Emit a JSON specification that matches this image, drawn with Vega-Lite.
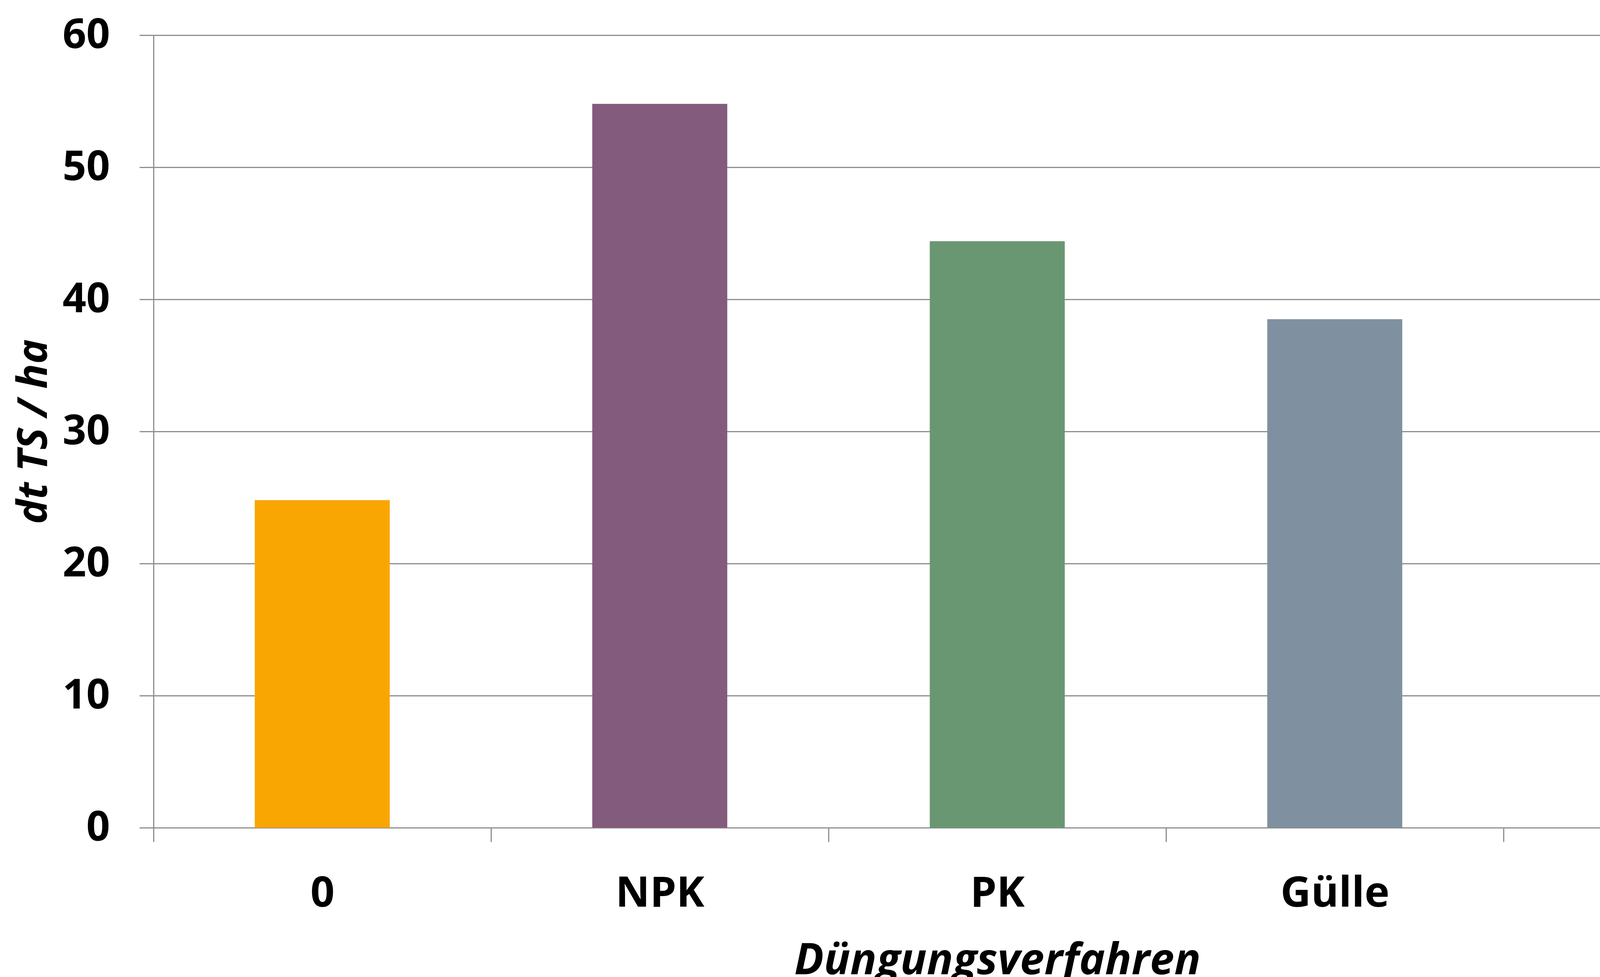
{
  "$schema": "https://vega.github.io/schema/vega-lite/v6.json",
  "width": 4300,
  "height": 2028,
  "autosize": {"type": "none"},
  "padding": {"left": 393, "top": 90, "right": 0, "bottom": 382},
  "background": "white",
  "config": {"view": {"stroke": null}, "font": "Open Sans"},
  "data": {
    "values": [
      {"Verfahren": "0", "Ertrag": 24.8},
      {"Verfahren": "NPK", "Ertrag": 54.8},
      {"Verfahren": "PK", "Ertrag": 44.4},
      {"Verfahren": "Gülle", "Ertrag": 38.5},
      {"Verfahren": "N", "Ertrag": 38.7}
    ]
  },
  "mark": {"type": "bar", "width": {"band": 0.4}},
  "encoding": {
    "x": {
      "field": "Verfahren",
      "type": "nominal",
      "sort": null,
      "scale": {"paddingInner": 0, "paddingOuter": 0, "range": [0, 4320]},
      "axis": {
        "title": "Düngungsverfahren",
        "labelAngle": 0,
        "labelLimit": 2000,
        "tickBand": "extent",
        "grid": false,
        "ticks": true,
        "tickSize": 36,
        "tickColor": "#8e8e8e",
        "tickWidth": 3,
        "domainColor": "#8e8e8e",
        "domainWidth": 3,
        "labelFont": "Open Sans",
        "labelFontSize": 108,
        "labelFontWeight": "bold",
        "labelColor": "black",
        "labelPadding": 80,
        "titleFont": "Open Sans",
        "titleFontSize": 112,
        "titleFontWeight": "bold",
        "titleFontStyle": "italic",
        "titleColor": "black",
        "titlePadding": 86
      }
    },
    "y": {
      "field": "Ertrag",
      "type": "quantitative",
      "scale": {"domain": [0, 60], "nice": false},
      "axis": {
        "title": "dt TS / ha",
        "values": [0, 10, 20, 30, 40, 50, 60],
        "grid": true,
        "gridColor": "#8e8e8e",
        "gridWidth": 3,
        "ticks": true,
        "tickSize": 36,
        "tickColor": "#8e8e8e",
        "tickWidth": 3,
        "domainColor": "#8e8e8e",
        "domainWidth": 3,
        "labelFont": "Open Sans",
        "labelFontSize": 106,
        "labelFontWeight": "bold",
        "labelColor": "black",
        "labelPadding": 76,
        "titleFont": "Open Sans",
        "titleFontSize": 106,
        "titleFontWeight": "bold",
        "titleFontStyle": "italic",
        "titleColor": "black",
        "titlePadding": 52
      }
    },
    "color": {
      "field": "Verfahren",
      "type": "nominal",
      "scale": {
        "domain": ["0", "NPK", "PK", "Gülle", "N"],
        "range": ["#f9a602", "#835b7c", "#699772", "#7f91a1", "#c0504e"]
      },
      "legend": null
    }
  }
}
